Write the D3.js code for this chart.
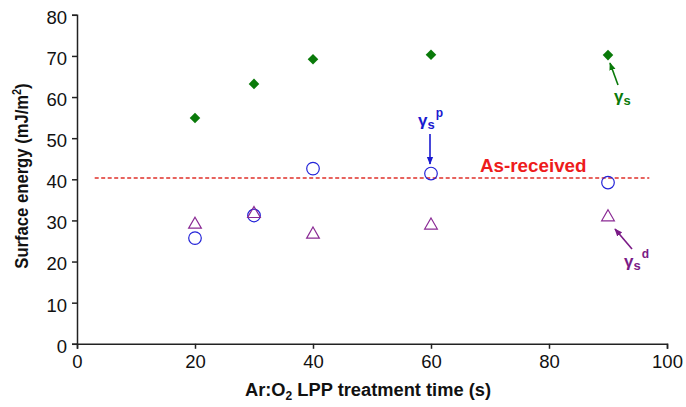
<!DOCTYPE html>
<html><head><meta charset="utf-8">
<script src="https://cdn.jsdelivr.net/npm/d3@7"></script>
<style>body{margin:0;background:#fff}svg{display:block}text{font-family:"Liberation Sans",Arial,sans-serif}</style>
</head><body>
<svg id="c" width="686" height="407"></svg>
<script>
const times = [20, 30, 40, 60, 90];
const gammaS = [54.9, 63.2, 69.2, 70.3, 70.2];
const gammaSp = [25.7, 31.2, 42.6, 41.4, 39.2];
const gammaSd = [29.0, 31.6, 26.6, 28.8, 30.8];
const asReceived = 40.3;
const asReceivedRange = [3, 97];
const xTicks = [0, 20, 40, 60, 80, 100];
const yTicks = [0, 10, 20, 30, 40, 50, 60, 70, 80];

const svg = d3.select("#c");
const x = d3.scaleLinear().domain([0, 100]).range([77, 667]);
const y = d3.scaleLinear().domain([0, 80]).range([343.8, 14.8]);

// axes
const xAxis = svg.append("g").attr("transform", "translate(0,343.8)")
  .call(d3.axisBottom(x).tickValues(xTicks).tickSize(5).tickPadding(6));
const yAxis = svg.append("g").attr("transform", "translate(77,0)")
  .call(d3.axisLeft(y).tickValues(yTicks).tickSize(5).tickPadding(5));
[xAxis, yAxis].forEach(a => {
  a.selectAll("path").attr("stroke", "#222").attr("stroke-width", 1.5);
  a.selectAll("line").attr("stroke", "#222").attr("stroke-width", 1.5);
  a.selectAll("text").attr("font-size", 18.5).attr("fill", "#111")
    .attr("font-family", "Liberation Sans, Arial, sans-serif");
});
yAxis.selectAll("text").attr("dy", "0.45em");

// axis titles
const xt = svg.append("text").attr("x", 368).attr("y", 396).attr("text-anchor", "middle")
  .attr("font-size", 18.3).attr("font-weight", "bold").attr("fill", "#111");
xt.append("tspan").text("Ar:O");
xt.append("tspan").text("2").attr("font-size", 12).attr("dy", 4);
xt.append("tspan").text(" LPP treatment time (s)").attr("dy", -4);

const yt = svg.append("text").attr("transform", "translate(28,176) rotate(-90) scale(0.9,1)")
  .attr("text-anchor", "middle").attr("font-size", 18.5).attr("font-weight", "bold").attr("fill", "#111");
yt.append("tspan").text("Surface energy (mJ/m");
yt.append("tspan").text("2").attr("font-size", 12).attr("dy", -7);
yt.append("tspan").text(")").attr("dy", 7);

// as-received line
svg.append("line")
  .attr("x1", x(asReceivedRange[0])).attr("x2", x(asReceivedRange[1]))
  .attr("y1", y(asReceived)).attr("y2", y(asReceived))
  .attr("stroke", "#e0302a").attr("stroke-width", 1.5).attr("stroke-dasharray", "4,2.5");
svg.append("text").attr("x", 480).attr("y", 171.5).attr("font-size", 18.8)
  .attr("font-weight", "bold").attr("fill", "#ee1c1c").text("As-received");

// series
const diamond = d3.symbol().type(d3.symbolSquare).size(56);
svg.append("g").selectAll("path").data(times).join("path")
  .attr("d", diamond)
  .attr("transform", (d, i) => `translate(${x(d)},${y(gammaS[i])}) rotate(45)`)
  .attr("fill", "#0a7a0a");

svg.append("g").selectAll("circle").data(times).join("circle")
  .attr("cx", d => x(d)).attr("cy", (d, i) => y(gammaSp[i])).attr("r", 6.3)
  .attr("fill", "none").attr("stroke", "#2323d8").attr("stroke-width", 1.2);

const tri = d3.symbol().type(d3.symbolTriangle).size(70);
svg.append("g").selectAll("path").data(times).join("path")
  .attr("d", tri)
  .attr("transform", (d, i) => `translate(${x(d)},${y(gammaSd[i])})`)
  .attr("fill", "none").attr("stroke", "#8a2a94").attr("stroke-width", 1.2);

// annotations with arrows
const defs = svg.append("defs");
function marker(id, color) {
  defs.append("marker").attr("id", id).attr("viewBox", "0 0 10 10").attr("refX", 9).attr("refY", 5)
    .attr("markerWidth", 5).attr("markerHeight", 5).attr("orient", "auto")
    .append("path").attr("d", "M0,1 L10,5 L0,9 z").attr("fill", color);
}
marker("mg", "#0a7a0a"); marker("mb", "#1a1ad0"); marker("mp", "#7a1a86");

function label(xp, yp, sup, color) {
  const t = svg.append("text").attr("x", xp).attr("y", yp).attr("font-size", 17)
    .attr("font-weight", "bold").attr("fill", color);
  t.append("tspan").text("γ");
  t.append("tspan").text("s").attr("font-size", 13).attr("dy", 3);
  if (sup) t.append("tspan").text(sup).attr("font-size", 12).attr("dy", -12).attr("dx", 1);
}
svg.append("line").attr("x1", 618).attr("y1", 85).attr("x2", 610).attr("y2", 63)
  .attr("stroke", "#0a7a0a").attr("stroke-width", 1.6).attr("marker-end", "url(#mg)");
label(614, 102, null, "#0a7a0a");

svg.append("line").attr("x1", 430).attr("y1", 134).attr("x2", 430).attr("y2", 164)
  .attr("stroke", "#1a1ad0").attr("stroke-width", 1.6).attr("marker-end", "url(#mb)");
label(418, 126, "p", "#1a1ad0");

svg.append("line").attr("x1", 632).attr("y1", 249).attr("x2", 615).attr("y2", 229)
  .attr("stroke", "#7a1a86").attr("stroke-width", 1.6).attr("marker-end", "url(#mp)");
label(624, 267, "d", "#7a1a86");
</script>
</body></html>
